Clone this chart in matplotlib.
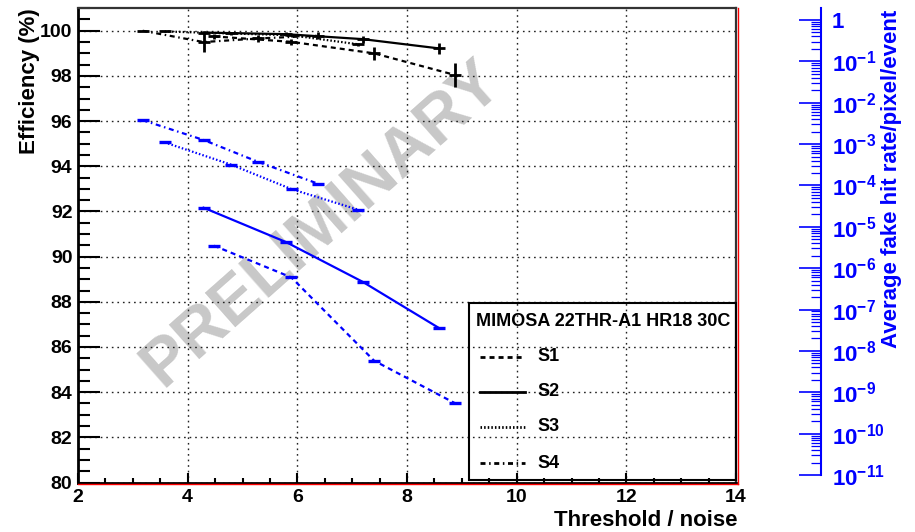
import matplotlib
matplotlib.use('Agg')
import matplotlib.pyplot as plt
from matplotlib.lines import Line2D
from matplotlib.patches import Rectangle
from matplotlib.ticker import MultipleLocator, LogLocator, FixedLocator, FixedFormatter, NullFormatter, NullLocator

plt.rcParams['font.family'] = ['Liberation Sans', 'DejaVu Sans']
plt.rcParams['font.weight'] = 'bold'
plt.rcParams['mathtext.fontset'] = 'custom'
plt.rcParams['mathtext.rm'] = 'Liberation Sans:bold'
plt.rcParams['mathtext.bf'] = 'Liberation Sans:bold'
plt.rcParams['mathtext.it'] = 'Liberation Sans:bold'
plt.rcParams['mathtext.default'] = 'regular'
plt.rcParams['lines.scale_dashes'] = False

# ---------------- data ----------------
series_names = ['S1', 'S2', 'S3', 'S4']

# efficiency (left axis, %)
s1_eff_x = [4.48, 5.89, 7.40, 8.88]
s1_eff = [99.75, 99.51, 99.00, 98.04]
s1_eff_err = [0.10, 0.14, 0.30, 0.55]

s2_eff_x = [4.29, 5.79, 7.19, 8.58]
s2_eff = [99.92, 99.85, 99.63, 99.22]
s2_eff_err = [0.06, 0.10, 0.15, 0.25]

s3_eff_x = [3.58, 4.79, 5.90, 7.11]
s3_eff = [99.97, 99.88, 99.80, 99.40]
s3_eff_err = [0.03, 0.05, 0.06, 0.08]

s4_eff_x = [3.18, 4.29, 5.29, 6.38]
s4_eff = [100.00, 99.50, 99.66, 99.78]
s4_eff_err = [0.02, 0.43, 0.15, 0.15]

# average fake hit rate (right axis, /pixel/event)
s1_fake_x = [4.48, 5.89, 7.40, 8.88]
s1_fake = [3.5e-6, 6.0e-7, 5.8e-9, 5.4e-10]

s2_fake_x = [4.29, 5.79, 7.19, 8.58]
s2_fake = [2.9e-5, 4.3e-6, 4.7e-7, 3.6e-8]

s3_fake_x = [3.58, 4.79, 5.90, 7.11]
s3_fake = [1.1e-3, 3.2e-4, 8.1e-5, 2.6e-5]

s4_fake_x = [3.18, 4.29, 5.29, 6.38]
s4_fake = [3.8e-3, 1.26e-3, 3.7e-4, 1.1e-4]

x_ticks = [2, 4, 6, 8, 10, 12, 14]
y_ticks = [80, 82, 84, 86, 88, 90, 92, 94, 96, 98, 100]
fake_ticks = [1e-11, 1e-10, 1e-9, 1e-8, 1e-7, 1e-6, 1e-5, 1e-4, 1e-3, 1e-2, 1e-1, 1]
fake_tick_labels = ['$10^{-11}$', '$10^{-10}$', '$10^{-9}$', '$10^{-8}$', '$10^{-7}$',
                    '$10^{-6}$', '$10^{-5}$', '$10^{-4}$', '$10^{-3}$', '$10^{-2}$',
                    '$10^{-1}$', '1']

legend_title = 'MIMOSA 22THR-A1 HR18 30C'
x_title = 'Threshold / noise'
y_title = 'Efficiency (%)'
y2_title = 'Average fake hit rate/pixel/event'
watermark = 'PRELIMINARY'

# ---------------- styles ----------------
styles = {
    'S1': (0, (3.6, 2.9)),
    'S2': '-',
    'S3': (0, (1.1, 1.5)),
    'S4': (0, (3.6, 2.6, 1.1, 2.6)),
}

W, H = 915, 532
def fx(px):
    return px / W
def fy(py):
    return 1 - py / H

fig = plt.figure(figsize=(W / 100, H / 100), dpi=100)
fig.patch.set_facecolor('white')

L, R, T, B = 78, 736, 7.5, 482.5
ax = fig.add_axes([fx(L), fy(B), fx(R) - fx(L), fy(T) - fy(B)])
ax.set_xlim(2, 14)
ax.set_ylim(80, 101.03)
ax.xaxis.set_major_locator(FixedLocator(x_ticks))
ax.xaxis.set_minor_locator(MultipleLocator(0.5))
ax.yaxis.set_major_locator(FixedLocator(y_ticks))
ax.yaxis.set_minor_locator(MultipleLocator(0.5))
ax.tick_params(axis='y', which='major', direction='in', length=16, width=1.5, labelsize=14, pad=4)
ax.tick_params(axis='y', which='minor', direction='in', length=8.5, width=1.5)
ax.tick_params(axis='x', which='major', direction='in', length=7, width=1.5, labelsize=14, pad=5)
ax.tick_params(axis='x', which='minor', direction='in', length=3.5, width=1.5)
ax.tick_params(top=False, right=False, which='both')
ax.grid(True, which='major', linestyle=(0, (1.2, 2.8)), color='#222222', lw=1.0)
for s in ['left', 'bottom']:
    ax.spines[s].set_linewidth(2)
    ax.spines[s].set_color('black')
for s in ['top', 'right']:
    ax.spines[s].set_linewidth(1.6)
    ax.spines[s].set_color('#333333')
for lab in ax.get_xticklabels() + ax.get_yticklabels():
    lab.set_fontweight('bold')

# watermark
ax.text(0.372, 0.545, watermark, transform=ax.transAxes, rotation=41.5,
        fontsize=48, color='#c8c8c8', fontweight='bold', ha='center', va='center', zorder=0.5)

# efficiency data (black)
eff_data = [
    ('S1', s1_eff_x, s1_eff, s1_eff_err),
    ('S2', s2_eff_x, s2_eff, s2_eff_err),
    ('S3', s3_eff_x, s3_eff, s3_eff_err),
    ('S4', s4_eff_x, s4_eff, s4_eff_err),
]
for name, xs, ys, es in eff_data:
    ax.plot(xs, ys, color='black', lw=1.6, linestyle=styles[name], zorder=3)
    ax.errorbar(xs, ys, yerr=es, xerr=0.11, fmt='none', ecolor='black', elinewidth=2, capsize=0, zorder=4)

fig.text(fx(738), fy(521), x_title, ha='right', va='center', fontsize=16, fontweight='bold')
fig.text(fx(30), fy(8), y_title, rotation=90, ha='center', va='top', fontsize=16, fontweight='bold')

# right (fake rate) axis
RT, RB = 8, 475
ax2 = fig.add_axes([fx(L), fy(RB), fx(R) - fx(L), fy(RT) - fy(RB)])
ax2.patch.set_visible(False)
ax2.set_xlim(2, 14)
ax2.set_yscale('log')
ax2.set_ylim(1e-11, 10 ** (-11 + (RB - RT) / 41.36))
for s in ['left', 'top', 'bottom']:
    ax2.spines[s].set_visible(False)
ax2.spines['right'].set_position(('axes', (820.5 - L) / (R - L)))
ax2.spines['right'].set_color('blue')
ax2.spines['right'].set_linewidth(1.5)
ax2.xaxis.set_major_locator(NullLocator())
ax2.xaxis.set_minor_locator(NullLocator())
ax2.yaxis.tick_right()
ax2.yaxis.set_major_locator(FixedLocator(fake_ticks))
ax2.yaxis.set_major_formatter(FixedFormatter(fake_tick_labels))
ax2.yaxis.set_minor_locator(LogLocator(base=10, subs=[2, 3, 4, 5, 6, 7, 8, 9], numticks=30))
ax2.yaxis.set_minor_formatter(NullFormatter())
ax2.tick_params(axis='y', which='major', direction='in', length=16, width=1.2, color='blue',
                labelcolor='blue', labelsize=16, pad=8)
ax2.tick_params(axis='y', which='minor', direction='in', length=7, width=0.9, color='blue')
for lab in ax2.get_yticklabels():
    lab.set_fontweight('bold')

fake_data = [
    ('S1', s1_fake_x, s1_fake),
    ('S2', s2_fake_x, s2_fake),
    ('S3', s3_fake_x, s3_fake),
    ('S4', s4_fake_x, s4_fake),
]
for name, xs, ys in fake_data:
    ax2.plot(xs, ys, color='blue', lw=1.6, linestyle=styles[name], zorder=3)
    ax2.errorbar(xs, ys, xerr=0.11, fmt='none', ecolor='blue', elinewidth=2.4, capsize=0, zorder=4)

fig.text(fx(891), fy(10), y2_title, rotation=90, ha='center', va='top', fontsize=16,
         fontweight='bold', color='blue')

# red frame lines (bottom and right)
fig.add_artist(Line2D([fx(L), fx(R + 1.5)], [fy(B + 1.5), fy(B + 1.5)], color='red', lw=1.0))
fig.add_artist(Line2D([fx(R + 1.5), fx(R + 1.5)], [fy(B + 1.5), fy(T)], color='red', lw=1.0))

# legend box
lx0, ly0, lx1, ly1 = 469, 302.7, 736, 480
fig.add_artist(Rectangle((fx(lx0), fy(ly1)), fx(lx1) - fx(lx0), fy(ly0) - fy(ly1),
                         fill=False, edgecolor='black', lw=1.5, zorder=10))
fig.text(fx(476), fy(321.7), legend_title, ha='left', va='center', fontsize=13, fontweight='bold', zorder=11)
entry_y = [356.7, 391.7, 426.7, 463.3]
for name, ey in zip(series_names, entry_y):
    fig.add_artist(Line2D([fx(480), fx(525)], [fy(ey), fy(ey)], color='black', lw=2,
                          linestyle=styles[name], zorder=11))
    fig.text(fx(537), fy(ey), name, ha='left', va='center', fontsize=13, fontweight='bold', zorder=11)

fig.savefig('out.png', dpi=100, facecolor='white')
